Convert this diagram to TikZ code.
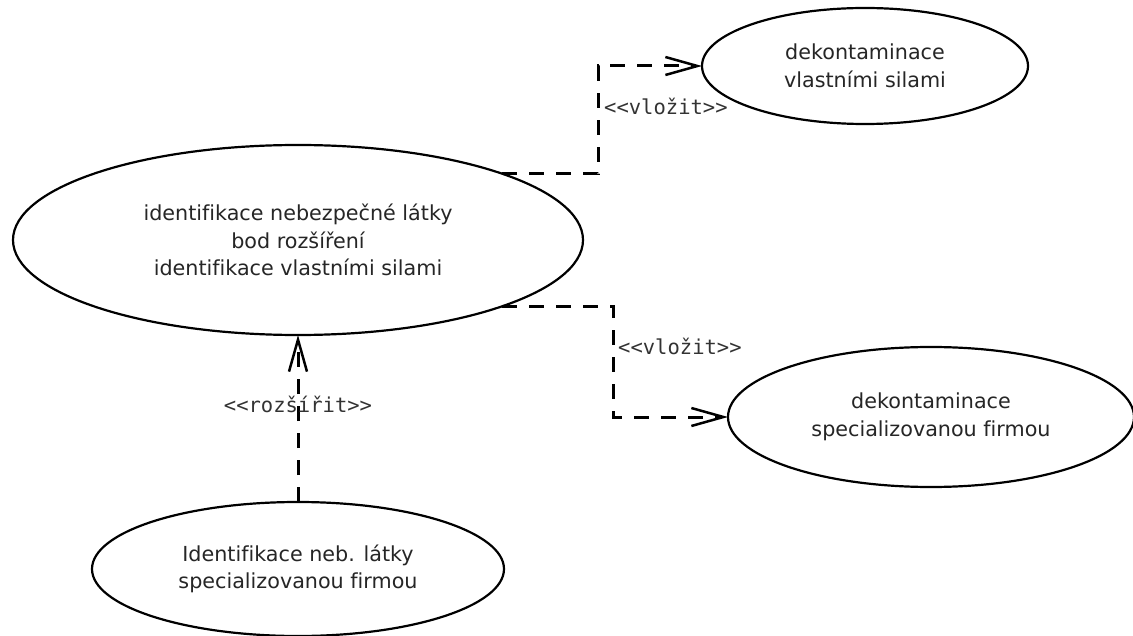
\documentclass[tikz,border=0pt]{standalone}
\usepackage{fontspec}
\setmainfont{DejaVu Sans}[Ligatures=NoCommon]
\newfontfamily\monolbl{DejaVu Sans Mono}
\usetikzlibrary{arrows.meta,shapes.geometric}

\begin{document}
\begin{tikzpicture}[x=1pt,y=-1pt,
  usecase/.style={ellipse, draw=black, line width=2.2pt, inner sep=0pt,
    outer sep=0pt, align=center, text=black!85,
    font=\fontsize{20.7}{27.5}\selectfont},
  conn/.style={line width=3pt, dash pattern=on 15pt off 12pt,
    -{Straight Barb[length=32pt,width=18pt,line width=2.5pt]}},
  lbl/.style={inner sep=0pt, text=black!80,
    font=\monolbl\fontsize{20.5}{24}\selectfont}]

  % canvas
  \useasboundingbox (0,0) rectangle (1133,636);
  \fill[white] (0,0) rectangle (1133,636);

  % use cases
  \node[usecase, minimum width=570pt, minimum height=190pt] (main) at (298,240)
    {identifikace nebezpečné látky\\bod rozšíření\\identifikace vlastními silami};
  \node[usecase, minimum width=326pt, minimum height=116pt] (selfdec) at (865,66)
    {dekontaminace\\vlastními silami};
  \node[usecase, minimum width=406pt, minimum height=140pt] (firmdec) at (931,417)
    {dekontaminace\\specializovanou firmou};
  \node[usecase, minimum width=412pt, minimum height=134pt] (firmid) at (298,569)
    {Identifikace neb. látky\\specializovanou firmou};

  % bend columns of the include relations
  \coordinate (bendA) at (598,0);
  \coordinate (bendB) at (613,0);

  % relations
  \draw[conn] (main.18) -| (bendA |- selfdec.west) -- (selfdec.west);
  \draw[conn] (main.-18) -| (bendB |- firmdec.west) -- (firmdec.west);
  \draw[conn] (firmid.north) -- (main.south);

  % stereotype labels
  \node[lbl, anchor=base west] (ins1) at (604,115) {<\kern0pt<vložit>\kern0pt>};
  \node[lbl, anchor=base west] (ins2) at (618,355) {<\kern0pt<vložit>\kern0pt>};
  \node[lbl, anchor=base] (ext) at (298,412) {<\kern0pt<rozšířit>\kern0pt>};
\end{tikzpicture}
\end{document}
